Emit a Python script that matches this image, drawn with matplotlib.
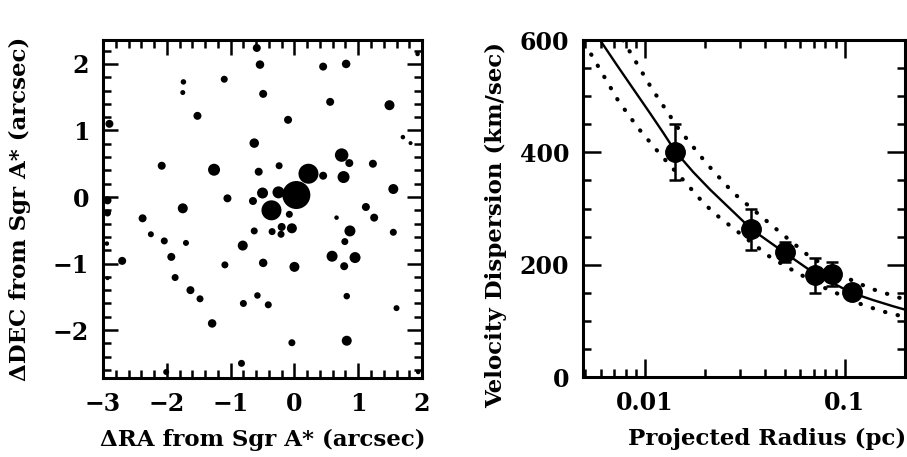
import numpy as np
import matplotlib
matplotlib.use("Agg")
import matplotlib.pyplot as plt
from matplotlib.ticker import MultipleLocator, FixedLocator, NullFormatter

plt.rcParams['font.family'] = ['DejaVu Serif']
plt.rcParams['font.weight'] = 'bold'
plt.rcParams['axes.labelweight'] = 'bold'

# ---- left panel: stars near Sgr A* (offsets in arcsec) ----
star_ra = [-0.59, -0.54, 0.45, 0.81, -1.74, -1.10, -1.75, -0.49, 0.56, 1.49,
           -1.52, -0.10, -2.90, 1.70, 1.82, -0.63, 0.74, 0.86, 1.23, -2.08,
           -1.26, -0.24, -0.56, 0.22, 0.45, 0.77, 1.55, 0.03, -0.25, -0.50,
           -1.05, -0.65, -2.93, -0.36, -1.75, 1.12, -2.93, -0.08, -2.38, 0.66,
           1.25, -0.20, -0.04, 0.87, 1.55, -0.63, -0.35, -0.21, -2.25, -2.04,
           -1.70, 0.79, -0.81, -2.94, 0.59, 0.95, -1.93, -2.70, -0.49, -1.09,
           0.00, 0.78, -1.87, -2.93, -1.63, -1.48, -0.58, 0.82, -0.80, -0.41,
           1.60, -1.29, -0.04, 0.82, -0.83, -2.01, 1.93, 1.94]
star_dec = [2.24, 1.99, 1.96, 2.00, 1.73, 1.77, 1.57, 1.55, 1.43, 1.38,
            1.22, 1.16, 1.10, 0.90, 0.81, 0.81, 0.63, 0.51, 0.50, 0.47,
            0.41, 0.47, 0.38, 0.35, 0.32, 0.30, 0.12, 0.03, 0.07, 0.06,
            -0.02, -0.06, -0.05, -0.20, -0.17, -0.15, -0.24, -0.26, -0.32, -0.31,
            -0.31, -0.45, -0.47, -0.51, -0.53, -0.51, -0.52, -0.56, -0.56, -0.66,
            -0.69, -0.67, -0.73, -0.70, -0.89, -0.91, -0.90, -0.96, -0.99, -1.02,
            -1.05, -1.04, -1.21, -1.22, -1.40, -1.53, -1.48, -1.49, -1.60, -1.62,
            -1.67, -1.90, -2.19, -2.16, -2.50, -2.63, 2.15, -2.63]
# apparent blob diameter (image pixels)
star_size = [8.0, 8.5, 8.0, 8.5, 5.5, 7.0, 5.0, 8.0, 8.0, 10.0,
             8.0, 8.0, 8.0, 4.5, 4.0, 9.5, 13.5, 8.0, 8.0, 8.0,
             12.0, 7.0, 8.0, 20.0, 8.0, 12.0, 10.0, 28.0, 12.0, 11.0,
             8.0, 8.0, 8.0, 20.0, 10.0, 8.0, 7.0, 7.0, 8.0, 4.5,
             8.0, 8.0, 10.0, 11.0, 7.0, 7.0, 7.0, 7.0, 6.0, 7.0,
             6.0, 7.0, 10.0, 4.5, 11.0, 11.0, 8.0, 8.0, 8.5, 7.0,
             10.0, 8.0, 7.0, 4.0, 8.0, 7.0, 6.5, 6.5, 7.0, 7.0,
             6.0, 8.5, 7.0, 10.0, 7.0, 6.0, 4.5, 4.5]

# ---- right panel: velocity dispersion vs projected radius ----
r_pc = [0.0142, 0.0341, 0.0501, 0.0708, 0.0858, 0.108]
sigma = [401, 263, 223, 181, 183, 152]
sigma_err = [50, 37, 18, 31, 21, 10]

# model curves
fit_r = [0.00596, 0.00722, 0.00874, 0.01059, 0.01234, 0.01424, 0.01743, 0.02114,
         0.02371, 0.03416, 0.05012, 0.0708, 0.108, 0.1385, 0.1744, 0.2]
fit_sigma = [600, 556, 513, 470, 435, 401, 365, 334,
             317, 263, 221, 184, 150, 137, 126, 120]
hi_r = [0.00776, 0.01080, 0.01467, 0.02035, 0.02764, 0.03904, 0.04732, 0.06683,
        0.1059, 0.1334, 0.2]
hi_sigma = [600, 514, 443, 380, 328, 283, 258, 214, 174, 158, 138]
lo_r = [0.0049, 0.00531, 0.00735, 0.00926, 0.01189, 0.01616, 0.01884, 0.02196,
        0.02764, 0.04217, 0.05309, 0.07789, 0.1235, 0.1616, 0.2]
lo_sigma = [592, 578, 492, 443, 397, 344, 317, 293, 265, 214, 193, 160, 128, 115, 107]

fig = plt.figure(figsize=(9.07, 4.57), dpi=100)

def style(ax, major, minor):
    ax.tick_params(which='both', direction='in', top=True, right=True,
                   width=1.8, labelsize=17, pad=10)
    ax.tick_params(which='major', length=major)
    ax.tick_params(which='minor', length=minor)
    for s in ax.spines.values():
        s.set_linewidth(2.2)

ax1 = fig.add_axes([0.1136, 0.1729, 0.3517, 0.7396])
ax1.scatter(star_ra, star_dec, s=(np.array(star_size) * 0.72) ** 2,
            c='k', linewidths=0)
ax1.set_xlim(-3, 2)
ax1.set_ylim(-2.72, 2.36)
ax1.xaxis.set_major_locator(MultipleLocator(1))
ax1.xaxis.set_minor_locator(MultipleLocator(0.2))
ax1.yaxis.set_major_locator(MultipleLocator(1))
ax1.yaxis.set_minor_locator(MultipleLocator(0.2))
style(ax1, 11, 5.5)
ax1.set_xlabel('ΔRA from Sgr A* (arcsec)', fontsize=16.5)
ax1.set_ylabel('ΔDEC from Sgr A* (arcsec)', fontsize=16.5)
ax1.xaxis.set_label_coords(0.5, -0.15)
ax1.yaxis.set_label_coords(-0.226, 0.5)

ax2 = fig.add_axes([0.6428, 0.175, 0.355, 0.7374])
ax2.set_xscale('log')
ax2.plot(fit_r, fit_sigma, color='k', lw=1.7)
ax2.plot(hi_r, hi_sigma, color='k', lw=3, linestyle=(0, (0.1, 3.0)),
         dash_capstyle='round')
ax2.plot(lo_r, lo_sigma, color='k', lw=3, linestyle=(0, (0.1, 3.0)),
         dash_capstyle='round')
ax2.errorbar(r_pc, sigma, yerr=sigma_err, fmt='o', ms=14, color='k',
             ecolor='k', elinewidth=1.8, capsize=4, capthick=1.8)
ax2.set_xlim(0.0049, 0.2)
ax2.set_ylim(0, 600)
ax2.xaxis.set_major_locator(FixedLocator([0.01, 0.1]))
ax2.set_xticklabels(['0.01', '0.1'])
ax2.xaxis.set_minor_locator(FixedLocator([0.005, 0.006, 0.007, 0.008, 0.009,
                                          0.02, 0.03, 0.04, 0.05, 0.06, 0.07,
                                          0.08, 0.09, 0.2]))
ax2.xaxis.set_minor_formatter(NullFormatter())
ax2.yaxis.set_major_locator(MultipleLocator(200))
ax2.yaxis.set_minor_locator(MultipleLocator(50))
style(ax2, 13, 6)
ax2.set_xlabel('Projected Radius (pc)', fontsize=16.5)
ax2.set_ylabel('Velocity Dispersion (km/sec)', fontsize=16.5)
ax2.xaxis.set_label_coords(0.571, -0.15)
ax2.yaxis.set_label_coords(-0.236, 0.45)

fig.savefig('out.png', dpi=100)
